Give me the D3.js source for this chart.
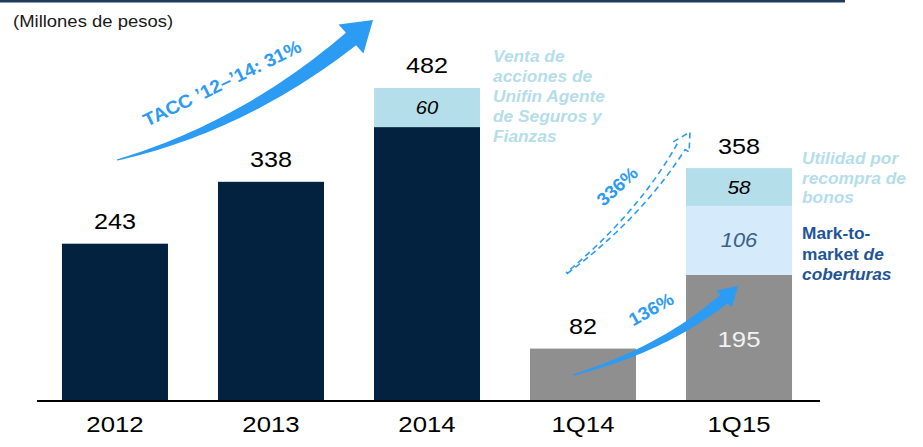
<!DOCTYPE html>
<html><head><meta charset="utf-8">
<script src="https://cdn.jsdelivr.net/npm/d3@7"></script>
<style>
html,body{margin:0;padding:0;background:#fff;}
text{font-family:"Liberation Sans",Arial,sans-serif;}
</style></head>
<body><svg id="c" width="923" height="447"></svg>
<script>
// ---- data ----
const categories = ["2012","2013","2014","1Q14","1Q15"];
const baseValues = [243, 338, 422, 82, 195];
const saleValues = [0, 0, 60, 0, 0];        // Venta de acciones de Unifin Agente...
const mtmValues = [0, 0, 0, 0, 106];        // Mark-to-market de coberturas
const buybackValues = [0, 0, 0, 0, 58];     // Utilidad por recompra de bonos
const totals = [243, 338, 482, 82, 358];
const unitLabel = "(Millones de pesos)";
const growthLabels = ["TACC \u201912\u2013\u201914: 31%", "336%", "136%"];

// ---- style ----
const C = {navy:"#03223f", grey:"#8f8f8f", light:"#b4deea", pale:"#d5eafb",
           arrow:"#2b9bf3", legend:"#b4deea", mtm:"#1f5598", top:"#1e3a5c"};
const SX = 1.12;

const svg = d3.select("#c");
const x = d3.scaleBand().domain(categories).range([37, 817]).paddingInner(0.3205).paddingOuter(0.16);
const y = d3.scaleLinear().domain([0, 482]).range([402, 88]);

// top rule
svg.append("rect").attr("x",0).attr("y",0).attr("width",845).attr("height",2.5).attr("fill",C.top);

function txt(parent, px, py, s, o={}) {
  const t = parent.append("text")
    .attr("transform", `translate(${px},${py}) rotate(${o.rot||0}) scale(${o.sx||SX},1)`)
    .attr("text-anchor", o.anchor||"middle")
    .attr("font-size", o.size||22)
    .attr("font-weight", o.weight||"normal")
    .attr("font-style", o.style||"normal")
    .attr("fill", o.fill||"#000");
  if (o.dy) t.attr("dy", o.dy);
  if (s!==null) t.text(s);
  return t;
}

txt(svg, 13, 27, unitLabel, {anchor:"start", size:16.5, fill:"#1a1a1a"});

// stacked series
const stackRows = categories.map((c,i)=>({cat:c, base:baseValues[i], sale:saleValues[i], mtm:mtmValues[i], buy:buybackValues[i]}));
const keys = ["base","sale","mtm","buy"];
const stacked = d3.stack().keys(keys)(stackRows);
const fills = {sale:C.light, mtm:C.pale, buy:C.light};
const bars = svg.append("g");
stacked.forEach(layer=>{
  bars.selectAll(null).data(layer.filter(d=>d[1]-d[0]>0)).enter().append("rect")
    .attr("x", d=>x(d.data.cat)).attr("width", x.bandwidth())
    .attr("y", d=>y(d[1])).attr("height", d=>y(d[0])-y(d[1]))
    .attr("fill", d=> layer.key==="base" ? (d.data.cat.startsWith("1Q")?C.grey:C.navy) : fills[layer.key]);
});

// axis
const ax = svg.append("g").attr("transform","translate(0,401)")
  .call(d3.axisBottom(x).tickSize(0).tickPadding(15));
ax.select(".domain").remove();
ax.selectAll("text").attr("font-family","Liberation Sans, Arial").attr("font-size",23).attr("fill","#000")
  .attr("transform","scale(1,1)")
  .each(function(){ const t=d3.select(this); const cx = +t.attr("x")||0; });
// stretch tick labels horizontally around their centers
ax.selectAll(".tick text").attr("transform", `scale(${SX},1)`);
svg.append("line").attr("x1",37).attr("x2",820).attr("y1",401).attr("y2",401).attr("stroke","#000").attr("stroke-width",2);

// total labels
categories.forEach((c,i)=>{
  txt(svg, x(c)+x.bandwidth()/2, y(totals[i])-15, String(totals[i]), {size:22.5});
});
// segment labels
stacked.forEach(layer=>{
  layer.forEach(d=>{
    const v = d[1]-d[0];
    if (v<=0) return;
    const cx = x(d.data.cat)+x.bandwidth()/2, cy=(y(d[0])+y(d[1]))/2;
    if (layer.key==="base" && d.data.cat==="1Q15") txt(svg, cx, cy, String(v), {size:23, fill:"#f2f2f2", dy:"0.36em"});
    if (layer.key==="sale") txt(svg, cx, cy, String(v), {size:18, style:"italic", dy:"0.36em"});
    if (layer.key==="buy") txt(svg, cx, cy, String(v), {size:18.5, style:"italic", dy:"0.36em"});
    if (layer.key==="mtm") txt(svg, cx, cy, String(v), {size:19.5, style:"italic", fill:"#3a5f8a", dy:"0.36em"});
  });
});

// legends
const leg1 = ["Venta de","acciones de","Unifin Agente","de Seguros y","Fianzas"];
leg1.forEach((s,i)=> txt(svg, 493, 62+i*20, s, {anchor:"start", size:16.5, weight:"bold", style:"italic", fill:C.legend, sx:1.05}));
const leg2 = ["Utilidad por","recompra de","bonos"];
leg2.forEach((s,i)=> txt(svg, 802, 164+i*19.5, s, {anchor:"start", size:16.5, weight:"bold", style:"italic", fill:C.legend, sx:1.05}));
const leg3 = [[["Mark-to-","normal"]],[["market ","normal"],["de","italic"]],[["coberturas","italic"]]];
leg3.forEach((parts,i)=>{
  const t = txt(svg, 802, 239+i*20.5, null, {anchor:"start", size:16.5, weight:"bold", fill:C.mtm, sx:1.05});
  parts.forEach(p=> t.append("tspan").attr("font-style",p[1]).text(p[0]));
});

// tapered curved arrows
function arrowPath(p0, c, p1, tip, bodyHalf, headHalf) {
  const N = 40, L=[], R=[];
  for (let i=0;i<=N;i++){
    const t=i/N, mt=1-t;
    const px = mt*mt*p0[0]+2*mt*t*c[0]+t*t*p1[0];
    const py = mt*mt*p0[1]+2*mt*t*c[1]+t*t*p1[1];
    let dx = 2*mt*(c[0]-p0[0])+2*t*(p1[0]-c[0]);
    let dy = 2*mt*(c[1]-p0[1])+2*t*(p1[1]-c[1]);
    const len = Math.hypot(dx,dy); dx/=len; dy/=len;
    const w = 0.6 + bodyHalf*Math.pow(t,0.9);
    L.push([px - dy*w, py + dx*w]); R.push([px + dy*w, py - dx*w]);
  }
  let hx = tip[0]-p1[0], hy = tip[1]-p1[1]; const hl=Math.hypot(hx,hy); hx/=hl; hy/=hl;
  const hl1=[p1[0]-hy*headHalf, p1[1]+hx*headHalf], hr1=[p1[0]+hy*headHalf, p1[1]-hx*headHalf];
  const pts = L.concat([hl1, tip, hr1], R.reverse());
  return "M"+pts.map(p=>p[0].toFixed(1)+","+p[1].toFixed(1)).join("L")+"Z";
}
svg.append("path").attr("d", arrowPath([117,160],[243,127],[351,39],[373,20],7.5,19)).attr("fill",C.arrow);
svg.append("path").attr("d", arrowPath([573,375],[662,350],[724,299],[738,286],5,11.5)).attr("fill",C.arrow);
svg.append("path").attr("d", arrowPath([567,273],[640,215],[681,147],[690,132],4.2,9.5))
  .attr("fill","none").attr("stroke",C.arrow).attr("stroke-width",1.6).attr("stroke-dasharray","6,4");

txt(svg, 222, 83, growthLabels[0], {rot:-26, size:18.5, weight:"bold", fill:C.arrow, sx:1.05, dy:"0.36em"});
txt(svg, 617, 186, growthLabels[1], {rot:-42, size:18, weight:"bold", fill:C.arrow, sx:1.05, dy:"0.36em"});
txt(svg, 651, 309, growthLabels[2], {rot:-29, size:18, weight:"bold", fill:C.arrow, sx:1.05, dy:"0.36em"});
</script></body></html>
